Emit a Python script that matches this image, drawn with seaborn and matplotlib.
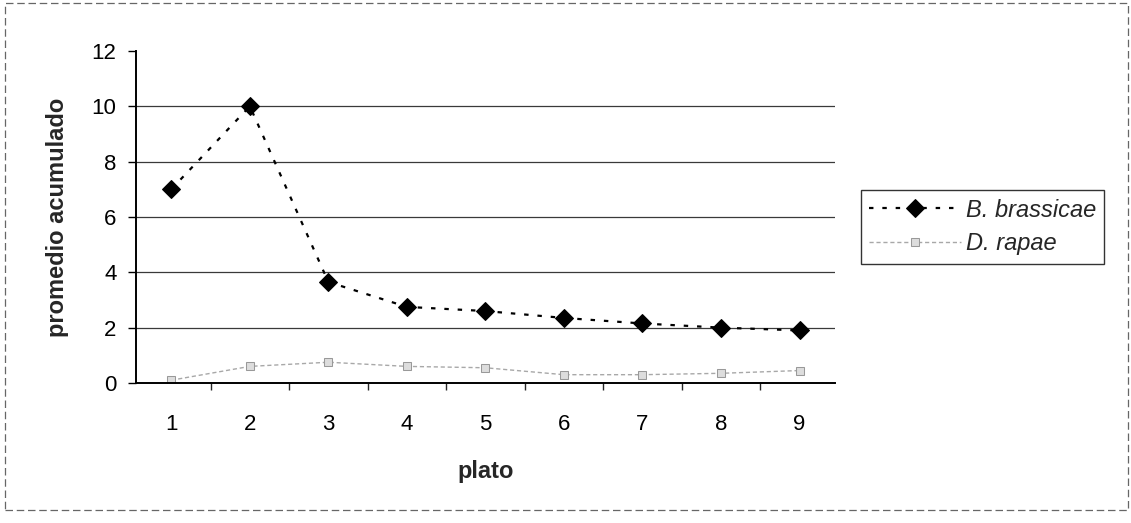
import matplotlib
matplotlib.use("Agg")
import matplotlib.pyplot as plt
from matplotlib.patches import Rectangle
import pandas as pd
import seaborn as sns

# datos
platos = [1, 2, 3, 4, 5, 6, 7, 8, 9]
b_brassicae = [7.0, 10.0, 3.65, 2.75, 2.6, 2.35, 2.15, 2.0, 1.9]
d_rapae = [0.1, 0.6, 0.75, 0.6, 0.55, 0.3, 0.3, 0.35, 0.45]
y_ticks = [0, 2, 4, 6, 8, 10, 12]

sns.set_style("white")
plt.rcParams['font.family'] = ['Liberation Sans', 'DejaVu Sans']

df = pd.DataFrame({"plato": platos, "bb": b_brassicae, "dr": d_rapae})

fig = plt.figure(figsize=(11.31, 5.23), dpi=100)
ax = fig.add_axes([0.1202, 0.2677, 0.618, 0.635])

sns.lineplot(data=df, x="plato", y="bb", ax=ax, color="black",
             linestyle=(0, (2, 4)), linewidth=1.6, marker="D",
             markersize=9, markeredgecolor="black", label="B. brassicae")
sns.lineplot(data=df, x="plato", y="dr", ax=ax, color="#a8a8a8",
             linestyle=(0, (3, 2)), linewidth=1.0, marker="s",
             markersize=6, markeredgecolor="#999999",
             markerfacecolor="#dddddd", label="D. rapae")

ax.set_xlim(0.55, 9.45)
ax.set_ylim(0, 12)
ax.set_yticks(y_ticks)
ax.set_xticks(platos)
ax.set_xticks([p + 0.5 for p in platos[:-1]], minor=True)
ax.tick_params(axis="both", labelsize=16, colors="black")
ax.tick_params(axis="y", which="major", direction="out", length=6, width=1,
               left=True, pad=8)
ax.tick_params(axis="x", which="major", length=0, pad=22)
ax.tick_params(axis="x", which="minor", direction="out", length=5, width=1, bottom=True)

# lineas de division (sin la de 0 ni la de 12)
ax.yaxis.grid(True, color="#3a3a3a", linewidth=0.9)
ax.get_ygridlines()[-1].set_visible(False)
ax.get_ygridlines()[0].set_visible(False)
ax.set_axisbelow(True)

for s in ["top", "right"]:
    ax.spines[s].set_visible(False)
for s in ["left", "bottom"]:
    ax.spines[s].set_color("black")
    ax.spines[s].set_linewidth(1.4)

ax.set_xlabel("plato", fontsize=17, fontweight="bold", labelpad=18)
ax.set_ylabel("promedio acumulado", fontsize=17, fontweight="bold", labelpad=16)

leg = ax.legend(loc="upper left", bbox_to_anchor=(0.761, 0.636),
                bbox_transform=fig.transFigure, fontsize=17, frameon=True,
                fancybox=False, handlelength=3.9, borderpad=0.35,
                borderaxespad=0, labelspacing=0.45, handletextpad=0.2)
leg.get_frame().set_edgecolor("black")
leg.get_frame().set_linewidth(1.0)
for t in leg.get_texts():
    t.set_fontstyle("italic")

# borde del area del grafico
fig.patches.append(Rectangle((0.0044, 0.025), 0.9926, 0.969, transform=fig.transFigure,
                             fill=False, edgecolor="#666666", linewidth=0.9,
                             linestyle=(0, (6, 3))))

fig.savefig("out.png", dpi=100)
